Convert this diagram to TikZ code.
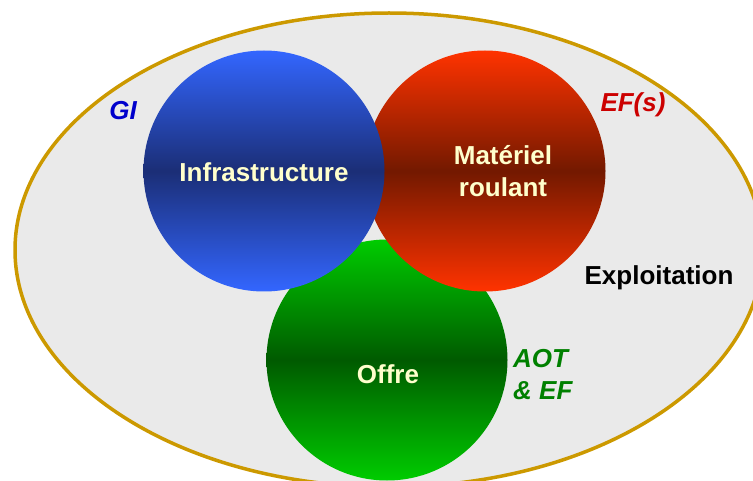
\documentclass[tikz,border=0pt]{standalone}
\usepackage{fontspec}
\setmainfont{Liberation Sans}
\usepackage{tikz}
\usetikzlibrary{shapes.geometric}
\definecolor{goldline}{RGB}{204,153,0}
\definecolor{zonegrey}{RGB}{234,234,234}
\definecolor{cream}{RGB}{255,255,204}
\definecolor{bluetop}{RGB}{51,102,255}
\definecolor{bluemid}{RGB}{27,46,118}
\definecolor{redtop}{RGB}{255,51,0}
\definecolor{redmid}{RGB}{115,25,0}
\definecolor{greentop}{RGB}{0,204,0}
\definecolor{greenmid}{RGB}{0,90,0}
\definecolor{gitext}{RGB}{0,0,204}
\definecolor{eftext}{RGB}{204,0,0}
\definecolor{aottext}{RGB}{0,128,0}
\tikzset{
	zone/.style={
		circle,
		inner sep=0pt,
		minimum size=241pt
	},
	lbl/.style={
		inner sep=0pt,
		font=\bfseries\fontsize{26}{32}\selectfont
	},
	inlbl/.style={lbl,text=cream,align=center},
	role/.style={lbl,font=\bfseries\itshape\fontsize{26}{32}\selectfont}
}

\begin{document}
\begin{tikzpicture}[x=1pt,y=-1pt]
		\clip (0,0) rectangle (753,481);
		\node[ellipse,draw=goldline,line width=3.5pt,fill=zonegrey,inner sep=0pt,
			minimum width=748pt,minimum height=474pt] (exploit) at (389,250) {};

		% cercles : vert, rouge puis bleu
		\node[zone,top color=greentop,bottom color=greentop,middle color=greenmid] (offre) at (387,360) {};
		\node[zone,top color=redtop,bottom color=redtop,middle color=redmid] (materiel) at (485,171) {};
		\node[zone,top color=bluetop,bottom color=bluetop,middle color=bluemid] (infra) at (264,171) {};

		\node[inlbl,anchor=base] (infratxt) at (264,182) {Infrastructure};
		\node[inlbl] (materieltxt) at (503,171) {Matériel\\roulant};
		\node[inlbl,anchor=base] (offretxt) at (388,384) {Offre};

		\node[role,text=gitext,anchor=base] (gi) at (123,120) {GI};
		\node[role,text=eftext,anchor=base] (efs) at (633,112) {EF(s)};
		\node[role,text=aottext,align=left,anchor=west] (aot) at (513,375) {AOT\\\& EF};
		\node[lbl,anchor=base] (exploittxt) at (659,285) {Exploitation};
	\end{tikzpicture}
\end{document}
